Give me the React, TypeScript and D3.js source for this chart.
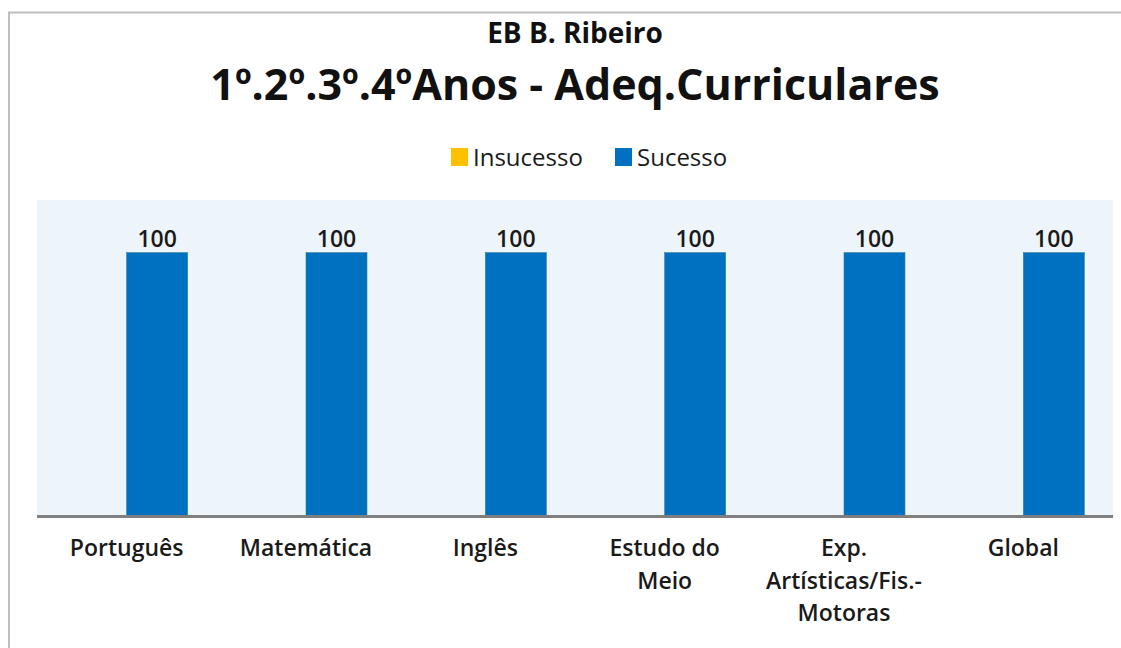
import React, { useEffect, useRef } from 'react';
import * as d3 from 'd3';

const categories = ['Português', 'Matemática', 'Inglês', 'Estudo do Meio', 'Exp. Artísticas/Fis.- Motoras', 'Global'];
const categoryLines = [['Português'], ['Matemática'], ['Inglês'], ['Estudo do', 'Meio'], ['Exp.', 'Artísticas/Fis.-', 'Motoras'], ['Global']];
const seriesNames = ['Insucesso', 'Sucesso'];
const insucesso = [0, 0, 0, 0, 0, 0];
const sucesso = [100, 100, 100, 100, 100, 100];
const colors = ['#FFC000', '#0070C0'];

const FONT = "'Open Sans', 'Noto Sans', sans-serif";

const App = () => {
    const svgRef = useRef<SVGSVGElement>(null);

    useEffect(() => {
        const width = 1121;
        const height = 648;
        const svg = d3.select(svgRef.current)
            .attr('width', width)
            .attr('height', height);
        svg.selectAll('*').remove();

        // chart frame
        svg.append('path')
            .attr('d', `M9,${height} L9,12.5 L${width},12.5`)
            .attr('fill', 'none')
            .attr('stroke', '#BDBDBD')
            .attr('stroke-width', 2);

        const left = 37, right = 1113, top = 200, bottom = 516;

        svg.append('rect')
            .attr('x', left).attr('y', top)
            .attr('width', right - left).attr('height', bottom - top)
            .attr('fill', '#EEF5FA');

        const x = d3.scaleBand()
            .domain(categories)
            .range([left, right])
            .paddingInner(0.32)
            .paddingOuter(0.16);

        const xs = d3.scaleBand()
            .domain(seriesNames)
            .range([0, x.bandwidth()]);

        const y = d3.scaleLinear()
            .domain([0, 120])
            .range([bottom, top]);

        const rows = categories.map((c, i) => ({ c, values: [insucesso[i], sucesso[i]] }));

        const groups = svg.selectAll('.grp')
            .data(rows)
            .join('g')
            .attr('transform', d => `translate(${x(d.c)},0)`);

        groups.selectAll('rect')
            .data(d => d.values.map((v, k) => ({ v, k })))
            .join('rect')
            .attr('x', d => xs(seriesNames[d.k])!)
            .attr('y', d => y(d.v))
            .attr('width', xs.bandwidth())
            .attr('height', d => bottom - y(d.v))
            .attr('fill', d => colors[d.k])
            .attr('stroke', '#2E7D9A')
            .attr('stroke-width', 0.6);

        groups.selectAll('.val')
            .data(d => d.values.map((v, k) => ({ v, k })).filter(e => e.v > 0))
            .join('text')
            .attr('x', d => xs(seriesNames[d.k])! + xs.bandwidth() / 2)
            .attr('y', d => y(d.v) - 6)
            .attr('text-anchor', 'middle')
            .style('font-family', FONT)
            .style('font-weight', 600)
            .style('font-size', '23px')
            .style('fill', '#1a1a1a')
            .text(d => d.v);

        // axis line
        svg.append('line')
            .attr('x1', left).attr('x2', right)
            .attr('y1', bottom + 0.5).attr('y2', bottom + 0.5)
            .attr('stroke', '#7F7F7F')
            .attr('stroke-width', 3);

        // category labels
        categories.forEach((c, i) => {
            const t = svg.append('text')
                .attr('text-anchor', 'middle')
                .style('font-family', FONT)
                .style('font-weight', 600)
                .style('font-size', '23px')
                .style('fill', '#1a1a1a');
            categoryLines[i].forEach((line, j) => {
                t.append('tspan')
                    .attr('x', x(c)! + x.bandwidth() / 2)
                    .attr('y', 556 + j * 32.5)
                    .text(line);
            });
        });

        // titles
        svg.append('text')
            .attr('x', 575).attr('y', 43)
            .attr('text-anchor', 'middle')
            .style('font-family', FONT)
            .style('font-weight', 'bold')
            .style('font-size', '28px')
            .style('fill', '#111')
            .text('EB B. Ribeiro');

        svg.append('text')
            .attr('x', 575).attr('y', 100)
            .attr('text-anchor', 'middle')
            .style('font-family', FONT)
            .style('font-weight', 'bold')
            .style('font-size', '43px')
            .style('fill', '#111')
            .text('1º.2º.3º.4ºAnos - Adeq.Curriculares');

        // legend
        const legendX = [451, 615];
        seriesNames.forEach((s, i) => {
            svg.append('rect')
                .attr('x', legendX[i]).attr('y', 148)
                .attr('width', 17).attr('height', 18)
                .attr('fill', colors[i]);
            svg.append('text')
                .attr('x', legendX[i] + 22).attr('y', 166)
                .style('font-family', FONT)
                .style('font-weight', 500)
                .style('font-size', '24px')
                .style('fill', '#1a1a1a')
                .text(s);
        });
    }, []);

    return <svg ref={svgRef} style={{ position: 'absolute', left: 0, top: 0 }}></svg>;
};

export default App;
